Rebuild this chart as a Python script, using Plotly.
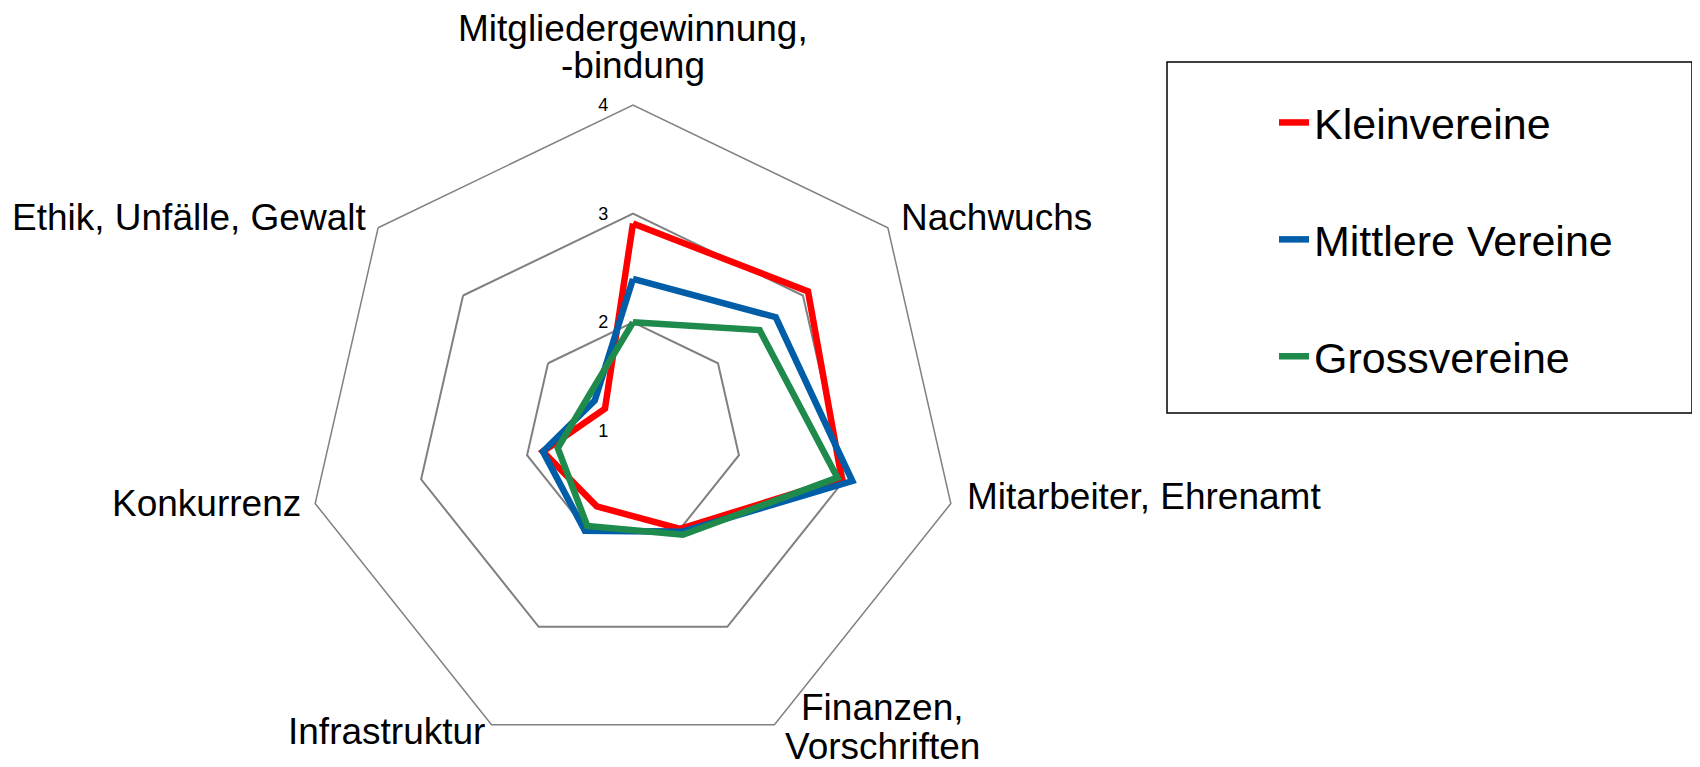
import plotly.graph_objects as go

categories = [
    "Mitgliedergewinnung,\n-bindung",
    "Nachwuchs",
    "Mitarbeiter, Ehrenamt",
    "Finanzen,\nVorschriften",
    "Infrastruktur",
    "Konkurrenz",
    "Ethik, Unfälle, Gewalt",
]
series_names = ["Kleinvereine", "Mittlere Vereine", "Grossvereine"]
klein = [2.91, 3.06, 2.97, 2.00, 1.77, 1.85, 1.33]
mittel = [2.40, 2.68, 3.07, 2.03, 2.02, 1.85, 1.45]
gross = [2.00, 2.49, 2.93, 2.06, 1.97, 1.71, 1.52]
radial_ticks = [1, 2, 3, 4]

colors = ["#FF0000", "#005DA8", "#1E8B4C"]
values = [klein, mittel, gross]

W, H = 1700, 767
OFF = 8  # page body margin offset compensation (px)
# polar placement (pixels, in reference coordinates)
cx, cy, R = 633 - OFF, 431 - OFF, 326

# category label placement in reference pixels: (x, y of first line, xanchor)
label_pos = [
    (633, 29, "center"),
    (899, 217, "left"),
    (965, 496, "left"),
    (883, 707, "center"),
    (487, 731, "right"),
    (303, 503, "right"),
    (368, 217, "right"),
]
line_gaps = [37, 39, 39, 39, 39, 39, 39]
FONT = "Liberation Sans, Arial, sans-serif"

fig = go.Figure()
for name, vals, col in zip(series_names, values, colors):
    fig.add_trace(go.Scatterpolar(
        r=vals + vals[:1],
        theta=categories + categories[:1],
        mode="lines",
        name=name,
        legendgroup=name,
        line=dict(color=col, width=6.5),
    ))

annotations = []
for cat, (px, py, anchor), gap in zip(categories, label_pos, line_gaps):
    for i, line in enumerate(cat.split("\n")):
        annotations.append(dict(
            text=line, xref="paper", yref="paper",
            x=(px - OFF) / W, y=1 - (py - OFF + i * gap) / H,
            xanchor=anchor, yanchor="middle", showarrow=False,
            font=dict(size=37, color="black", family=FONT),
        ))

fig.update_layout(
    width=W, height=H,
    margin=dict(l=0, r=0, t=0, b=0),
    paper_bgcolor="white",
    plot_bgcolor="white",
    font=dict(family=FONT, color="black"),
    polar=dict(
        domain=dict(x=[(cx - R) / W, (cx + R) / W],
                    y=[(H - cy - R) / H, (H - cy + R) / H]),
        gridshape="linear",
        bgcolor="white",
        radialaxis=dict(
            range=[1, 4],
            tickvals=radial_ticks,
            ticktext=[str(t) for t in radial_ticks],
            angle=90,
            tickangle=90,
            side="counterclockwise",
            showline=False,
            showgrid=True,
            gridcolor="#808080",
            gridwidth=1.5,
            ticks="outside",
            ticklen=18,
            tickcolor="rgba(0,0,0,0)",
            tickfont=dict(size=18, color="black"),
        ),
        angularaxis=dict(
            direction="clockwise",
            rotation=90,
            showgrid=False,
            showline=True,
            linecolor="#808080",
            linewidth=1.5,
            ticks="",
            showticklabels=False,
        ),
    ),
    legend=dict(
        x=1266 / W, y=1 - 80 / H,
        xanchor="left", yanchor="top",
        font=dict(size=43, color="black"),
        traceorder="grouped",
        tracegroupgap=58,
        bgcolor="rgba(0,0,0,0)",
        borderwidth=0,
    ),
    showlegend=True,
    annotations=annotations,
    shapes=[dict(
        type="rect", xref="paper", yref="paper",
        x0=(1167 - OFF) / W, x1=1684 / W,
        y0=1 - (413 - OFF) / H, y1=1 - (62 - OFF) / H,
        line=dict(color="black", width=1.5), fillcolor="rgba(0,0,0,0)",
    )],
)

fig.write_html("out.html")
